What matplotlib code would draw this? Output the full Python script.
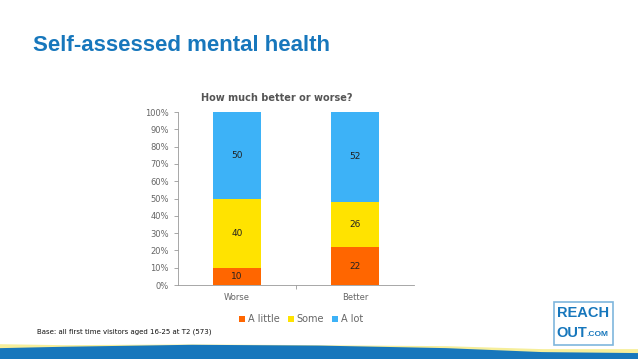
import numpy as np
import matplotlib.pyplot as plt
from matplotlib.patches import Rectangle

# --- data ---
categories = ["Worse", "Better"]
a_little = [10, 22]
some = [40, 26]
a_lot = [50, 52]
series_names = ["A little", "Some", "A lot"]
series_colors = ["#FF6600", "#FFE300", "#3DB2F7"]
yticks = list(range(0, 101, 10))

fig = plt.figure(figsize=(6.38, 3.59), dpi=100, facecolor="white")

# main slide title
fig.text(0.052, 0.873, "Self-assessed mental health", color="#1777BC",
         fontsize=16, fontweight="bold", ha="left", va="center",
         family="Liberation Sans")

ax = fig.add_axes([0.279, 0.206, 0.370, 0.482])
x = np.arange(len(categories))
bottom = np.zeros(len(categories))
for vals, name, col in zip([a_little, some, a_lot], series_names, series_colors):
    ax.bar(x, vals, width=0.41, bottom=bottom, color=col, label=name)
    for xi, b, v in zip(x, bottom, vals):
        ax.text(xi, b + v / 2, str(v), ha="center", va="center",
                fontsize=6.5, color="#222222")
    bottom += np.array(vals)

ax.set_xlim(-0.5, 1.5)
ax.set_ylim(0, 100)
ax.set_yticks(yticks)
ax.set_yticklabels([f"{t}%" for t in yticks])
ax.set_xticks(x)
ax.set_xticklabels(categories)
ax.tick_params(axis="both", labelsize=6, labelcolor="#666666", color="#999999",
               length=3, width=0.6)
ax.tick_params(axis="x", length=0, pad=6)
ax.set_xticks([0.5], minor=True)
ax.tick_params(axis="x", which="minor", length=3, color="#999999", width=0.6)
for s in ["top", "right"]:
    ax.spines[s].set_visible(False)
for s in ["left", "bottom"]:
    ax.spines[s].set_color("#999999")
    ax.spines[s].set_linewidth(0.6)

fig.text(0.434, 0.728, "How much better or worse?", ha="center", va="center",
         fontsize=7, fontweight="bold", color="#555555")

leg = fig.legend(loc="center", bbox_to_anchor=(0.472, 0.111), ncol=3,
                 frameon=False, fontsize=7, handlelength=0.6, handleheight=0.6,
                 handletextpad=0.3, columnspacing=0.8)
for t in leg.get_texts():
    t.set_color("#666666")

fig.text(0.058, 0.075, "Base: all first time visitors aged 16-25 at T2 (573)",
         fontsize=5, color="#111111", ha="left", va="center")

# logo box
fig.patches.append(Rectangle((0.868, 0.04), 0.093, 0.12, transform=fig.transFigure,
                             fill=False, edgecolor="#7FB6DD", linewidth=1.2))
fig.text(0.914, 0.127, "REACH", ha="center", va="center", fontsize=10.5,
         fontweight="bold", color="#1777BC", family="Liberation Sans")
fig.text(0.896, 0.073, "OUT", ha="center", va="center", fontsize=10.5,
         fontweight="bold", color="#1777BC", family="Liberation Sans")
fig.text(0.937, 0.068, ".COM", ha="center", va="center", fontsize=6,
         fontweight="bold", color="#1777BC", family="Liberation Sans")

# bottom wave band
wave = fig.add_axes([0, 0, 1, 0.055])
wave.set_xlim(0, 1)
wave.set_ylim(0, 1)
wave.axis("off")
xs = np.linspace(0, 1, 200)
top_blue = np.interp(xs, [0, 0.1, 0.3, 0.5, 0.7, 0.85, 1.0],
                     [0.55, 0.62, 0.72, 0.68, 0.55, 0.35, 0.3])
top_yel = np.interp(xs, [0, 0.1, 0.3, 0.5, 0.7, 0.85, 1.0],
                    [0.75, 0.7, 0.74, 0.7, 0.65, 0.5, 0.5])
wave.fill_between(xs, 0, top_yel, color="#F6EE9A", lw=0)
wave.fill_between(xs, 0, top_blue, color="#1777BC", lw=0)

fig.savefig("out.png", dpi=100, facecolor="white")
